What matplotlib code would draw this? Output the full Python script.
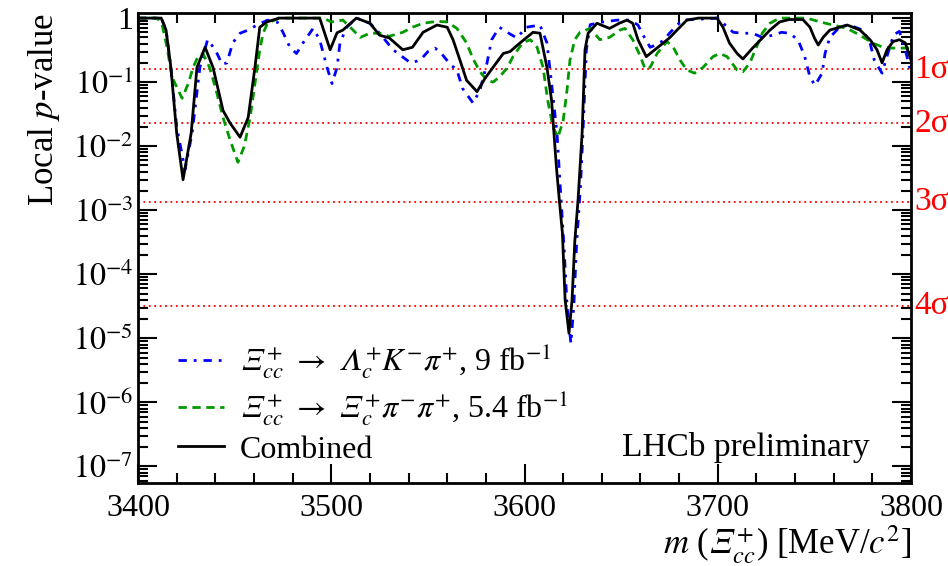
import numpy as np
import matplotlib
matplotlib.use('Agg')
from matplotlib import pyplot as plt
from matplotlib.ticker import FixedLocator, MultipleLocator, LogLocator, NullFormatter

plt.rcParams['font.family'] = ['Liberation Serif', 'DejaVu Serif']
plt.rcParams['mathtext.fontset'] = 'stix'

# combined
comb_m = [3400, 3412, 3414.5, 3417, 3420, 3423.3, 3427.5, 3430.5, 3434.7, 3438.8, 3444, 3447.6,
          3452.8, 3457, 3460.5, 3463, 3466.7, 3473, 3494, 3499.4, 3503, 3506, 3513, 3520, 3525,
          3530, 3537, 3542, 3547.5, 3554.7, 3560, 3563, 3566.6, 3570, 3575.4, 3579.6, 3583.7,
          3589, 3592.5, 3597.7, 3604.4, 3608, 3611.6, 3614, 3616.5, 3618, 3619.6, 3621, 3623,
          3624.6, 3626, 3627.7, 3629.8, 3631.3, 3632.9, 3637.5, 3644, 3649, 3653, 3656, 3658.7,
          3663, 3668.5, 3675, 3678.9, 3684, 3690, 3699.6, 3702.7, 3706, 3710, 3713, 3718, 3723.4,
          3727, 3732, 3737, 3744, 3747.7, 3750, 3752, 3754.5, 3758, 3767, 3773.6, 3778.8, 3782.4,
          3785, 3787.6, 3790.7, 3794, 3797, 3800]
comb_p = [1.0, 1.0, 0.65, 0.17, 0.016, 0.0030, 0.016, 0.17, 0.35, 0.17, 0.036, 0.023,
          0.0138, 0.028, 0.17, 0.72, 0.87, 1.0, 1.0, 0.32, 0.59, 0.65, 1.0, 0.83, 0.54,
          0.49, 0.32, 0.35, 0.60, 0.78, 0.72, 0.46, 0.22, 0.107, 0.071, 0.115, 0.17,
          0.28, 0.30, 0.41, 0.60, 0.58, 0.17, 0.052, 0.0047, 0.00145, 0.00044, 4.0e-5, 1.2e-5,
          4.0e-5, 3.2e-4, 0.00145, 0.016, 0.32, 0.58, 0.83, 0.69, 0.83, 0.93, 0.83, 0.46,
          0.25, 0.34, 0.49, 0.65, 0.93, 1.0, 1.0, 0.72, 0.41, 0.28, 0.23, 0.34, 0.50,
          0.65, 0.87, 0.95, 0.95, 0.72, 0.49, 0.38, 0.50, 0.65, 0.78, 0.65, 0.46, 0.32,
          0.20, 0.32, 0.43, 0.46, 0.41, 0.22]

# Lambda_c K pi channel
lkp_m = [3400, 3412, 3414.5, 3417, 3420, 3424.3, 3428, 3432, 3436, 3440, 3443.5, 3446, 3449,
         3452.8, 3457, 3461.6, 3467, 3472, 3475, 3478.6, 3482, 3485.4, 3490.6, 3494, 3497.8,
         3500.4, 3503, 3504.5, 3508, 3513, 3520, 3525, 3532, 3541, 3546, 3550, 3553.7, 3557,
         3561.5, 3565, 3568, 3573.4, 3577, 3580.6, 3583, 3587, 3591, 3596, 3601, 3608, 3611.6,
         3614, 3616.8, 3618.4, 3620.5, 3622, 3624, 3625.5, 3627, 3629, 3630.5, 3632, 3634,
         3640.6, 3648, 3654.6, 3658.7, 3662, 3665, 3668, 3672, 3675, 3679, 3682, 3700, 3705,
         3708, 3713, 3718, 3723, 3728.6, 3733, 3737, 3741.5, 3745, 3747.7, 3750.3, 3754,
         3755.5, 3758, 3763, 3768, 3775, 3778.8, 3781, 3785, 3788, 3791, 3794, 3797, 3800]
lkp_p = [1.0, 1.0, 0.65, 0.17, 0.020, 0.0043, 0.016, 0.17, 0.46, 0.32, 0.19, 0.20, 0.41,
         0.58, 0.65, 0.78, 0.93, 0.87, 0.60, 0.35, 0.28, 0.41, 0.69, 0.46, 0.17,
         0.095, 0.17, 0.41, 0.72, 1.0, 0.83, 0.58, 0.32, 0.20, 0.22, 0.30, 0.34, 0.28,
         0.19, 0.155, 0.079, 0.047, 0.076, 0.20, 0.46, 0.72, 0.60, 0.49, 0.72, 0.78, 0.41,
         0.095, 0.016, 0.0026, 2.5e-4, 3.2e-5, 8.3e-6, 3.2e-5, 3.2e-4, 0.0025, 0.025, 0.32, 0.79,
         0.87, 0.93, 0.93, 0.78, 0.50, 0.35, 0.38, 0.45, 0.58, 0.78, 0.93, 1.0, 0.72,
         0.60, 0.58, 0.58, 0.50, 0.54, 0.60, 0.58, 0.46, 0.25, 0.12, 0.089, 0.138,
         0.28, 0.50, 0.72, 0.78, 0.65, 0.41, 0.22, 0.138, 0.28, 0.55, 0.62, 0.32, 0.14]

# Xi_c pi pi channel
xpp_m = [3400, 3410, 3412.5, 3415, 3417.6, 3422.8, 3426, 3428.5, 3431, 3433.6, 3437, 3440,
         3444, 3447.6, 3451.7, 3455, 3458, 3460.5, 3463, 3464.7, 3467, 3473, 3496, 3500,
         3506, 3510, 3515, 3520, 3525, 3530, 3537, 3542, 3547.5, 3554.7, 3560, 3565, 3570,
         3573.4, 3577, 3580.6, 3583.7, 3587, 3591, 3594, 3599, 3603, 3606.5, 3609.6, 3612,
         3614.7, 3617.3, 3620, 3622, 3623.5, 3626, 3628.7, 3634, 3639, 3644, 3649.4, 3652,
         3656, 3660, 3662.4, 3665, 3668.6, 3673.7, 3677, 3680.5, 3684, 3688, 3692.4, 3697.5,
         3701, 3704.8, 3710, 3713, 3716.6, 3720, 3723, 3727, 3732, 3746, 3753, 3759.6, 3767,
         3773.6, 3780, 3785.5, 3790.7, 3796, 3800]
xpp_p = [1.0, 1.0, 0.78, 0.35, 0.12, 0.056, 0.095, 0.17, 0.25, 0.28, 0.17, 0.083,
         0.028, 0.0126, 0.0056, 0.010, 0.028, 0.095, 0.32, 0.58, 0.83, 1.0, 1.0, 0.87,
         0.93, 0.71, 0.50, 0.58, 0.58, 0.52, 0.60, 0.72, 0.83, 0.89, 0.87, 0.69, 0.41,
         0.23, 0.145, 0.107, 0.100, 0.12, 0.166, 0.25, 0.41, 0.46, 0.35, 0.17, 0.052,
         0.020, 0.0138, 0.025, 0.076, 0.22, 0.46, 0.60, 0.69, 0.46, 0.50, 0.65, 0.69,
         0.46, 0.25, 0.16, 0.17, 0.28, 0.43, 0.35, 0.22, 0.155, 0.138, 0.17, 0.25,
         0.28, 0.25, 0.155, 0.145, 0.20, 0.35, 0.58, 0.83, 1.0, 1.0, 0.87, 0.78, 0.69,
         0.54, 0.41, 0.35, 0.34, 0.34, 0.34]

sigma_p = [0.1587, 0.02275, 0.00135, 3.17e-5]
sigma_labels = ['1σ', '2σ', '3σ', '4σ']

fig = plt.figure(figsize=(9.48, 5.66), dpi=100)
ax = fig.add_axes([0.1456, 0.1466, 0.8154, 0.8304])

for p in sigma_p:
    ax.axhline(p, color='red', linestyle=(0, (1, 2)), linewidth=1.3, zorder=1)
for p, lab in zip(sigma_p, sigma_labels):
    ax.text(1.004, p, lab, transform=ax.get_yaxis_transform(), color='red',
            fontsize=24, va='center', ha='left')

ax.plot(lkp_m, lkp_p, color='blue', linestyle=(0, (3, 2.5, 1, 2.5)), linewidth=2,
        label='$𝛯_{cc}^{+}$ $\\rightarrow$ $𝛬_{c}^{+}K^{-}\\pi^{+}$, 9 fb$^{-1}$')
ax.plot(xpp_m, xpp_p, color='#009900', linestyle=(0, (3, 2)), linewidth=2,
        label='$𝛯_{cc}^{+}$ $\\rightarrow$ $𝛯_{c}^{+}\\pi^{-}\\pi^{+}$, 5.4 fb$^{-1}$')
ax.plot(comb_m, comb_p, color='black', linewidth=2, label='Combined')

ax.set_yscale('log')
ax.set_xlim(3400, 3800)
ax.set_ylim(5.5e-8, 1.2)

ax.xaxis.set_major_locator(MultipleLocator(100))
ax.xaxis.set_minor_locator(MultipleLocator(20))
yt = [1e-7, 1e-6, 1e-5, 1e-4, 1e-3, 1e-2, 1e-1, 1]
ax.yaxis.set_major_locator(FixedLocator(yt))
ax.set_yticklabels([r'$10^{-%d}$' % k for k in range(7, 0, -1)] + ['1'])
ax.yaxis.set_minor_locator(LogLocator(base=10, subs=np.arange(2, 10), numticks=20))
ax.yaxis.set_minor_formatter(NullFormatter())

ax.tick_params(which='both', direction='in', top=True, right=True, width=1.5, labelsize=23)
ax.tick_params(which='major', length=14)
ax.tick_params(which='minor', length=7)
ax.tick_params(axis='x', which='major', pad=8)
for s in ax.spines.values():
    s.set_linewidth(2)

ax.set_ylabel(r'Local $p$-value', fontsize=25, loc='top', labelpad=8)
ax.set_xlabel('$m$ ($𝛯_{cc}^{+}$) [MeV/$c^{2}$]', fontsize=25, loc='right', labelpad=0)

ax.text(0.946, 0.075, 'LHCb preliminary', transform=ax.transAxes, fontsize=24,
        ha='right', va='center')
ax.legend(loc='lower left', bbox_to_anchor=(0.035, 0.012), frameon=False, fontsize=23,
          handlelength=1.45, handletextpad=0.5, labelspacing=0.22, borderaxespad=0)

fig.savefig('out.png', dpi=100)
